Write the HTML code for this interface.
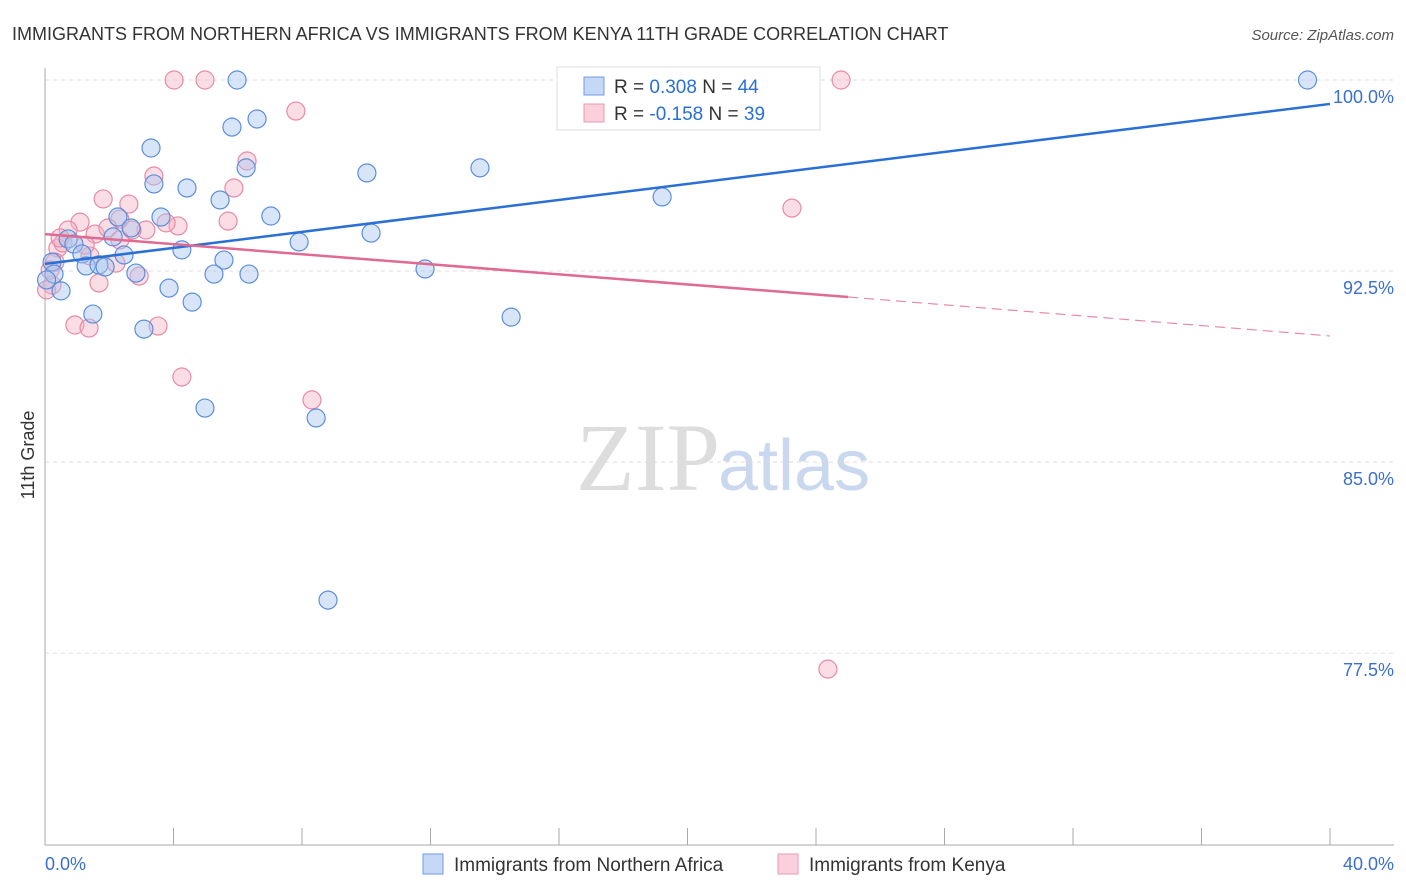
<!DOCTYPE html>
<html><head><meta charset="utf-8"><style>
body{margin:0;background:#fff;font-family:"Liberation Sans",sans-serif;}
</style></head><body>
<svg width="1406" height="892" style="display:block">
<text x="12" y="40" font-size="18" fill="#333">IMMIGRANTS FROM NORTHERN AFRICA VS IMMIGRANTS FROM KENYA 11TH GRADE CORRELATION CHART</text>
<text x="1394" y="40" font-size="15" fill="#555" text-anchor="end" font-style="italic">Source: ZipAtlas.com</text>
<text x="720" y="490" font-size="96" fill="#ddd" text-anchor="end" font-family="Liberation Serif,serif">ZIP</text>
<text x="718" y="490" font-size="72" fill="#c9d8ef">atlas</text>
<g id="grid"></g>
<g id="axes"></g>
<g id="pts"></g>
<g id="trend"></g>
<text x="34" y="455" font-size="18" fill="#333" text-anchor="middle" transform="rotate(-90 34 455)">11th Grade</text>
<g>
<rect x="557" y="67" width="263" height="63" fill="#fff" stroke="#ddd"/>
<rect x="584" y="77" width="20" height="18" fill="#c5d8f5" stroke="#6f9ce0"/>
<rect x="584" y="104" width="20" height="18" fill="#fad0dc" stroke="#ea9ab2"/>
<text x="614" y="93" font-size="19" fill="#333">R = <tspan fill="#2a6fd6">0.308</tspan>   N = <tspan fill="#2a6fd6">44</tspan></text>
<text x="614" y="120" font-size="19" fill="#333">R = <tspan fill="#2a6fd6">-0.158</tspan>   N = <tspan fill="#2a6fd6">39</tspan></text>
</g>
<text x="45" y="870" font-size="18" fill="#3a6fd0">0.0%</text>
<text x="1394" y="870" font-size="18" fill="#3a6fd0" text-anchor="end">40.0%</text>
<g>
<rect x="423" y="854" width="20" height="20" fill="#c5d8f5" stroke="#6f9ce0"/>
<text x="454" y="871" font-size="19" fill="#333">Immigrants from Northern Africa</text>
<rect x="778" y="854" width="20" height="20" fill="#fad0dc" stroke="#ea9ab2"/>
<text x="809" y="871" font-size="19" fill="#333">Immigrants from Kenya</text>
</g>
</svg>
<script>
const yTicks=[100,92.5,85,77.5];
const yTickLabels=["100.0%","92.5%","85.0%","77.5%"];
const xTicks=[0,4,8,12,16,20,24,28,32,36,40];
const blueX=[5.98,39.3,5.82,6.6,3.3,6.26,3.39,4.42,10.02,13.54,5.45,3.61,2.27,7.03,2.68,2.12,19.21,10.15,7.91,0.72,0.9,4.26,1.15,2.46,0.22,1.28,1.68,1.87,5.57,5.26,6.35,2.83,11.83,0.28,3.86,0.5,4.58,1.49,3.08,14.51,4.98,8.44,8.81,0.05];
const blueY=[100,100,98.15,98.47,97.33,96.55,95.92,95.76,96.35,96.55,95.29,94.62,94.62,94.66,94.19,93.84,95.41,93.99,93.64,93.76,93.56,93.33,93.17,93.13,92.85,92.7,92.74,92.66,92.93,92.38,92.38,92.42,92.58,92.38,91.83,91.72,91.28,90.81,90.22,90.69,87.12,86.73,79.58,92.15];
const pinkX=[4.02,4.98,24.78,7.81,6.29,3.39,5.88,1.81,2.61,23.25,1.09,2.33,5.7,4.14,3.77,0.72,1.56,3.14,1.96,0.4,0.56,1.4,2.21,2.93,0.31,0.22,1.68,0.93,1.37,3.52,4.26,8.31,24.37,0.05,0.47,2.71,2.33,1.25,0.16];
const pinkY=[100,100,100,98.78,96.82,96.23,95.76,95.33,95.13,94.97,94.42,94.54,94.46,94.27,94.39,94.11,93.95,94.11,94.19,93.4,93.6,93.09,92.81,92.3,92.85,91.95,92.03,90.38,90.26,90.34,88.34,87.44,76.87,91.76,93.8,94.11,93.72,93.52,92.54];
const blueTrend=[[0,92.78],[40,99.06]];
const pinkTrend=[[0,93.95],[25,91.48],[40,89.95]];
const NS="http://www.w3.org/2000/svg";
const X=v=>45+v*32.125, Y=v=>80+(100-v)*25.47;
function mk(t,a,p){const e=document.createElementNS(NS,t);for(const k in a)e.setAttribute(k,a[k]);p.appendChild(e);return e;}
const grid=document.getElementById('grid'),axes=document.getElementById('axes'),pts=document.getElementById('pts'),tr=document.getElementById('trend');
yTicks.forEach((v,i)=>{
 const l=mk('line',{x1:45,x2:1394,y1:Y(v),y2:Y(v),stroke:'#ddd','stroke-dasharray':'4 4'},grid);
 
 
 const t=mk('text',{x:1394,y:Y(v)+23,'font-size':18,fill:'#3a6fd0','text-anchor':'end'},grid);
 t.textContent=yTickLabels[i];
 
 
});
const ya=mk('line',{x1:45,x2:45,y1:68,y2:845,stroke:'#aaa'},axes);


const xa=mk('line',{x1:45,x2:1394,y1:845,y2:845,stroke:'#aaa'},axes);


xTicks.forEach(v=>{
 const t=mk('line',{x1:X(v),x2:X(v),y1:828,y2:845,stroke:'#aaa'},axes);
 
 
});
function dots(xs,ys,fill,stroke,name){
 xs.forEach((x,i)=>{
  const c=mk('circle',{cx:X(x),cy:Y(ys[i]),r:9,fill:fill,'fill-opacity':0.45,stroke:stroke,'stroke-width':1.2},pts);
  
  
 });
}
dots(pinkX,pinkY,'#f5b3c6','#e88aa6','kenya-point');
dots(blueX,blueY,'#a9c6f0','#5b8fdc','northern-africa-point');
const bl=mk('line',{x1:X(blueTrend[0][0]),y1:Y(blueTrend[0][1]),x2:X(blueTrend[1][0]),y2:Y(blueTrend[1][1]),stroke:'#2a6fd6','stroke-width':2.5},tr);


const pl=mk('line',{x1:X(pinkTrend[0][0]),y1:Y(pinkTrend[0][1]),x2:X(pinkTrend[1][0]),y2:Y(pinkTrend[1][1]),stroke:'#e06a92','stroke-width':2.5},tr);


const pd=mk('line',{x1:X(pinkTrend[1][0]),y1:Y(pinkTrend[1][1]),x2:X(pinkTrend[2][0]),y2:Y(pinkTrend[2][1]),stroke:'#e88aa6','stroke-width':1.2,'stroke-dasharray':'10 6'},tr);


</script>
</body></html>
